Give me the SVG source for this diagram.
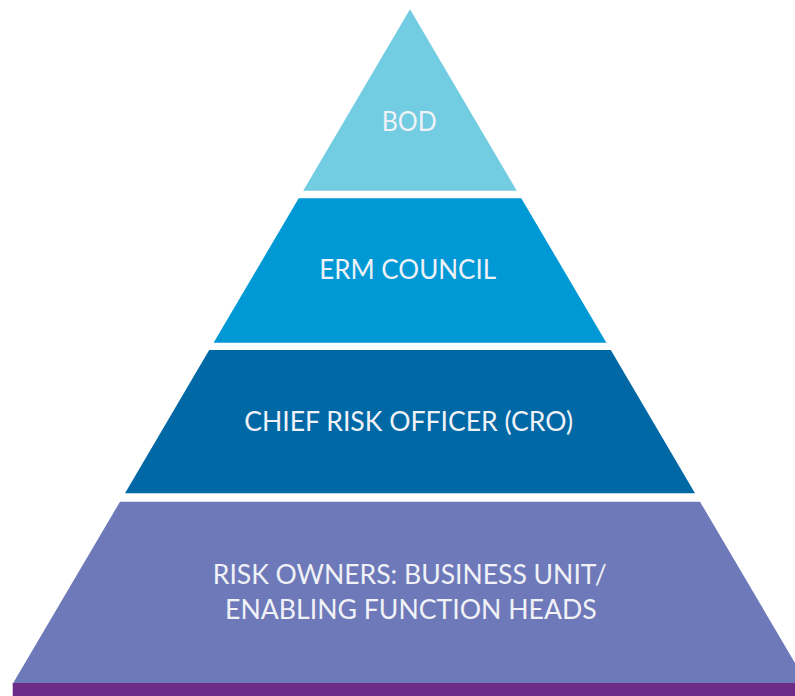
<svg xmlns="http://www.w3.org/2000/svg" width="795" height="696" viewBox="0 0 795 696">
  <style>
    .label { font-family: Lato, "Liberation Sans", sans-serif; font-size: 26px; fill: #F0F2F7; text-anchor: middle; }
  </style>
  <rect width="795" height="696" fill="#FFFFFF"/>

  <!-- Pyramid tiers share one triangle: apex (410,9.3), slope 0.589 -->
  <g id="tier-bod">
    <polygon points="410,9.3 303.2,190.7 516.8,190.7" fill="#72CDE2"/>
    <text class="label" x="409.2" y="130.7" textLength="55" lengthAdjust="spacingAndGlyphs">BOD</text>
  </g>

  <g id="tier-erm">
    <polygon points="298.7,198.3 521.3,198.3 606.4,342.7 213.6,342.7" fill="#0099D6"/>
    <text class="label" x="407.7" y="279" textLength="176.7" lengthAdjust="spacingAndGlyphs">ERM COUNCIL</text>
  </g>

  <g id="tier-cro">
    <polygon points="209.2,350 610.8,350 695,493.3 125,493.3" fill="#0068A5"/>
    <text class="label" x="408.7" y="430.7" textLength="329" lengthAdjust="spacingAndGlyphs">CHIEF RISK OFFICER (CRO)</text>
  </g>

  <g id="tier-owners">
    <polygon points="120,501.7 700,501.7 806.8,683 13.2,683" fill="#6E79B9"/>
    <text class="label" x="409.8" y="584.3" textLength="394" lengthAdjust="spacingAndGlyphs">RISK OWNERS: BUSINESS UNIT/</text>
    <text class="label" x="410.9" y="619" textLength="371.7" lengthAdjust="spacingAndGlyphs">ENABLING FUNCTION HEADS</text>
  </g>

  <!-- Base band -->
  <g id="base">
    <rect x="12.7" y="683" width="782.3" height="13" fill="#6D2C87"/>
  </g>
</svg>
